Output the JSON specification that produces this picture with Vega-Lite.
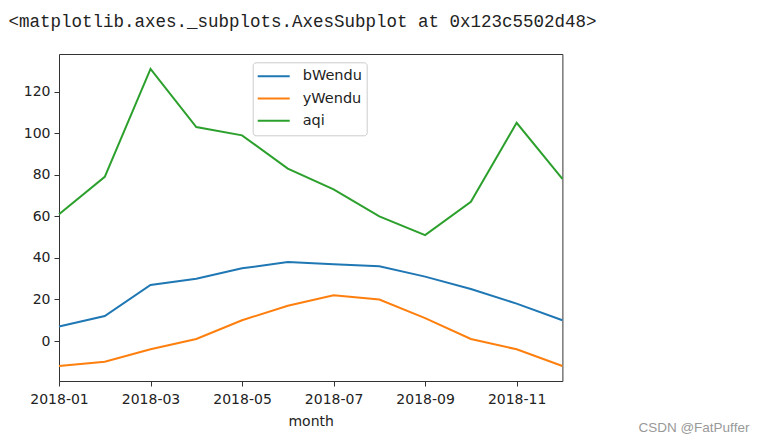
{
  "$schema": "https://vega.github.io/schema/vega-lite/v6.json",
  "width": 503.4,
  "height": 327,
  "autosize": {"type": "none"},
  "padding": {"left": 59, "top": 54, "right": 203.6, "bottom": 61},
  "background": "white",
  "title": {
    "text": "<matplotlib.axes._subplots.AxesSubplot at 0x123c5502d48>",
    "anchor": "start",
    "frame": "group",
    "font": "Liberation Mono",
    "fontSize": 17.5,
    "fontWeight": "normal",
    "color": "#222222",
    "dx": -50.5,
    "baseline": "alphabetic",
    "offset": 10
  },
  "config": {
    "view": {"stroke": "#333333", "strokeWidth": 1},
    "axis": {
      "domain": false,
      "grid": false,
      "tickColor": "#333333",
      "tickSize": 5,
      "tickWidth": 1,
      "labelFont": "DejaVu Sans",
      "labelFontSize": 14,
      "labelColor": "#222222",
      "titleFont": "DejaVu Sans",
      "titleFontSize": 14,
      "titleFontWeight": "normal",
      "titleColor": "#222222"
    }
  },
  "layer": [
    {
      "data": {
        "values": [
          {"month": "2018-01", "series": "bWendu", "value": 7},
          {"month": "2018-02", "series": "bWendu", "value": 12},
          {"month": "2018-03", "series": "bWendu", "value": 27},
          {"month": "2018-04", "series": "bWendu", "value": 30},
          {"month": "2018-05", "series": "bWendu", "value": 35},
          {"month": "2018-06", "series": "bWendu", "value": 38},
          {"month": "2018-07", "series": "bWendu", "value": 37},
          {"month": "2018-08", "series": "bWendu", "value": 36},
          {"month": "2018-09", "series": "bWendu", "value": 31},
          {"month": "2018-10", "series": "bWendu", "value": 25},
          {"month": "2018-11", "series": "bWendu", "value": 18},
          {"month": "2018-12", "series": "bWendu", "value": 10},
          {"month": "2018-01", "series": "yWendu", "value": -12},
          {"month": "2018-02", "series": "yWendu", "value": -10},
          {"month": "2018-03", "series": "yWendu", "value": -4},
          {"month": "2018-04", "series": "yWendu", "value": 1},
          {"month": "2018-05", "series": "yWendu", "value": 10},
          {"month": "2018-06", "series": "yWendu", "value": 17},
          {"month": "2018-07", "series": "yWendu", "value": 22},
          {"month": "2018-08", "series": "yWendu", "value": 20},
          {"month": "2018-09", "series": "yWendu", "value": 11},
          {"month": "2018-10", "series": "yWendu", "value": 1},
          {"month": "2018-11", "series": "yWendu", "value": -4},
          {"month": "2018-12", "series": "yWendu", "value": -12},
          {"month": "2018-01", "series": "aqi", "value": 61},
          {"month": "2018-02", "series": "aqi", "value": 79},
          {"month": "2018-03", "series": "aqi", "value": 131},
          {"month": "2018-04", "series": "aqi", "value": 103},
          {"month": "2018-05", "series": "aqi", "value": 99},
          {"month": "2018-06", "series": "aqi", "value": 83},
          {"month": "2018-07", "series": "aqi", "value": 73},
          {"month": "2018-08", "series": "aqi", "value": 60},
          {"month": "2018-09", "series": "aqi", "value": 51},
          {"month": "2018-10", "series": "aqi", "value": 67},
          {"month": "2018-11", "series": "aqi", "value": 105},
          {"month": "2018-12", "series": "aqi", "value": 78}
        ]
      },
      "mark": {"type": "line", "strokeWidth": 2},
      "encoding": {
        "x": {
          "field": "month",
          "type": "ordinal",
          "scale": {"type": "point", "padding": 0},
          "axis": {
            "values": ["2018-01", "2018-03", "2018-05", "2018-07", "2018-09", "2018-11"],
            "labelAngle": 0,
            "labelPadding": 6,
            "title": "month",
            "titlePadding": 8
          }
        },
        "y": {
          "field": "value",
          "type": "quantitative",
          "scale": {"domain": [-19.25, 138.15], "nice": false, "zero": false},
          "axis": {"values": [0, 20, 40, 60, 80, 100, 120], "title": null, "labelPadding": 4}
        },
        "color": {
          "field": "series",
          "type": "nominal",
          "scale": {"domain": ["bWendu", "yWendu", "aqi"], "range": ["#1f77b4", "#ff7f0e", "#2ca02c"]},
          "legend": {
            "orient": "none",
            "legendX": 193.7,
            "legendY": 8.3,
            "title": null,
            "symbolType": "stroke",
            "symbolSize": 1024,
            "symbolStrokeWidth": 2,
            "clipHeight": 20,
            "labelFont": "DejaVu Sans",
            "labelFontSize": 14.5,
            "labelColor": "#222222",
            "labelOffset": 12,
            "padding": 4,
            "rowPadding": 2.2,
            "fillColor": "rgba(255,255,255,0.8)",
            "strokeColor": "#cccccc",
            "cornerRadius": 3
          }
        }
      }
    },
    {
      "data": {"values": [{"note": "CSDN @FatPuffer"}]},
      "mark": {
        "type": "text",
        "align": "left",
        "baseline": "middle",
        "dx": 76,
        "dy": 47.3,
        "font": "Liberation Sans",
        "fontSize": 13.5,
        "color": "#999999"
      },
      "encoding": {
        "x": {"datum": "2018-12"},
        "y": {"datum": -19.25},
        "text": {"field": "note"}
      }
    }
  ]
}
